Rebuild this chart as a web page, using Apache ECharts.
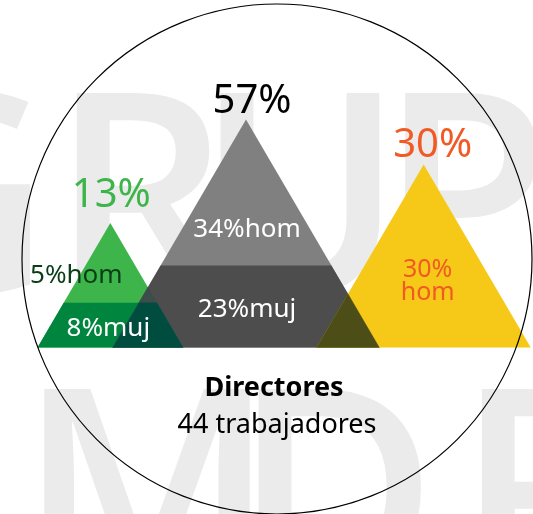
<!DOCTYPE html>
<html><head><meta charset="utf-8">
<script src="https://cdn.jsdelivr.net/npm/echarts@6/dist/echarts.min.js"></script>
<style>html,body{margin:0;padding:0;background:#fff}#c{width:533px;height:514px}</style>
</head><body><div id="c"></div>
<script>
// ---- data ----
const categories = ['Grupo 1', 'Grupo 2', 'Grupo 3'];
const totalPct = [13, 57, 30];
const homPct = [5, 34, 30];
const mujPct = [8, 23, 0];
const chartTitle = 'Directores';
const chartSubtitle = '44 trabajadores';
const watermarkTop = ['G', 'R', 'U', 'P'];
const watermarkBottom = ['M', 'D', 'R'];

// ---- style / layout ----
const FONT = 'Noto Sans';
const topColors = ['#3DB54A', '#808080', '#F6C918'];
const bottomColors = ['#00853F', '#4D4D4D', '#F6C918'];
const totalColors = ['#3DB54A', '#000000', '#F15A24'];
const homColors = ['#0B3D17', '#FFFFFF', '#F15A24'];
const mujColor = '#FFFFFF';
const peakShift = [0, -0.134, 0];      // in band widths
const halfSlope = 0.585;               // half base width / height
const splitFrac = 0.36;                // height fraction of lower band
const totalDx = [1, 6, 9], totalDy = [-27, -18, -18.5];
const homDx = [-34, 1, 4], homDy = [-1, 13, -5], homWrap = [false, false, true];
const mujDx = [-2, 1, 0], mujDy = [3, 3.5, 0];
const Y_MIN = 2.2, Y_MAX = 57;

// ---- helpers ----
function hexToRgb(h) { h = h.replace('#', ''); return [0, 2, 4].map(k => parseInt(h.substr(k, 2), 16)); }
function darken(c1, c2) {
  const a = hexToRgb(c1), b = hexToRgb(c2);
  return 'rgb(' + a.map((v, k) => Math.min(v, b[k])).join(',') + ')';
}
function signedArea(p) {
  let s = 0;
  for (let k = 0; k < p.length; k++) { const a = p[k], b = p[(k + 1) % p.length]; s += a[0] * b[1] - b[0] * a[1]; }
  return s;
}
function lineX(p1, p2, a, b) {
  const dx1 = p2[0] - p1[0], dy1 = p2[1] - p1[1], dx2 = b[0] - a[0], dy2 = b[1] - a[1];
  const den = dx1 * dy2 - dy1 * dx2;
  const t = ((a[0] - p1[0]) * dy2 - (a[1] - p1[1]) * dx2) / den;
  return [p1[0] + t * dx1, p1[1] + t * dy1];
}
function clipPoly(subject, clipper) {
  const sgn = signedArea(clipper);
  let out = subject;
  for (let k = 0; k < clipper.length && out.length; k++) {
    const a = clipper[k], b = clipper[(k + 1) % clipper.length];
    const inside = p => ((b[0] - a[0]) * (p[1] - a[1]) - (b[1] - a[1]) * (p[0] - a[0])) * sgn >= 0;
    const inp = out; out = [];
    for (let m = 0; m < inp.length; m++) {
      const cur = inp[m], prev = inp[(m + inp.length - 1) % inp.length];
      const ci = inside(cur), pi = inside(prev);
      if (ci) { if (!pi) out.push(lineX(prev, cur, a, b)); out.push(cur); }
      else if (pi) out.push(lineX(prev, cur, a, b));
    }
  }
  return out;
}

const chart = echarts.init(document.getElementById('c'));
const seriesData = categories.map((c, i) => [i, totalPct[i], homPct[i], mujPct[i]]);

// geometry of one peak, computed through the axes
function peakGeom(api, j) {
  const bw = api.size([1, 1])[0];
  const apex = api.coord([j, totalPct[j]]);
  const baseY = api.coord([j, Y_MIN])[1];
  const cx = apex[0] + peakShift[j] * bw;
  const topY = apex[1];
  const h = baseY - topY;
  const half = h * halfSlope;
  const g = { cx, topY, baseY, h, half, ys: baseY, pieces: [] };
  g.tri = [[cx - half, baseY], [cx + half, baseY], [cx, topY]];
  if (mujPct[j] > 0) {
    const ys = baseY - h * splitFrac, hs = half * (1 - splitFrac);
    g.ys = ys;
    g.trap = [[cx - half, baseY], [cx + half, baseY], [cx + hs, ys], [cx - hs, ys]];
    g.pieces.push({ poly: [[cx - hs, ys], [cx + hs, ys], [cx, topY]], color: topColors[j] });
    g.pieces.push({ poly: g.trap, color: bottomColors[j] });
  } else {
    g.pieces.push({ poly: g.tri, color: topColors[j] });
  }
  return g;
}

const wmTopX = [-50, 140, 300, 465];
const wmBotX = [147, 335, 545];
const graphics = [];
watermarkTop.forEach((ch, k) => graphics.push({
  type: 'text', z: 0, silent: true, x: wmTopX[k], y: 213,
  style: { text: ch, font: '600 280px "Open Sans"', fill: '#EBEBEB', textAlign: 'center', textVerticalAlign: 'middle' }
}));
watermarkBottom.forEach((ch, k) => graphics.push({
  type: 'text', z: 0, silent: true, x: wmBotX[k], y: 509,
  style: { text: ch, font: '600 280px "Open Sans"', fill: '#EBEBEB', textAlign: 'center', textVerticalAlign: 'middle' }
}));
graphics.push({
  type: 'circle', z: 50, silent: true,
  shape: { cx: 277, cy: 259, r: 255 },
  style: { fill: 'none', stroke: '#000', lineWidth: 1.2 }
});
graphics.push({
  type: 'text', z: 50, x: 274, y: 388,
  style: { text: chartTitle, font: 'bold 27px "' + FONT + '"', fill: '#000', textAlign: 'center', textVerticalAlign: 'middle' }
});
graphics.push({
  type: 'text', z: 50, x: 277, y: 425,
  style: { text: chartSubtitle, font: '27px "' + FONT + '"', fill: '#000', textAlign: 'center', textVerticalAlign: 'middle' }
});

chart.setOption({
  backgroundColor: '#ffffff',
  animation: false,
  graphic: graphics,
  grid: { left: 32, right: 31, top: 119.5, bottom: 166.5 },
  xAxis: { type: 'category', data: categories, show: false },
  yAxis: { type: 'log', logBase: 10, min: Y_MIN, max: Y_MAX, show: false },
  series: [{
    type: 'custom',
    z: 5,
    silent: true,
    encode: { x: 0, y: 1 },
    data: seriesData,
    renderItem: function (params, api) {
      const i = params.dataIndex;
      const total = api.value(1), hom = api.value(2), muj = api.value(3);
      const g = peakGeom(api, i);
      const children = [];
      children.push({ type: 'polygon', shape: { points: g.tri }, style: { fill: topColors[i] } });
      if (g.trap) children.push({ type: 'polygon', shape: { points: g.trap }, style: { fill: bottomColors[i] } });
      // overlaps with earlier peaks: darkened colour
      for (let j = 0; j < i; j++) {
        const gj = peakGeom(api, j);
        g.pieces.forEach(pi => gj.pieces.forEach(pj => {
          const inter = clipPoly(pi.poly, pj.poly);
          if (inter.length >= 3) {
            const col = darken(pi.color, pj.color);
            children.push({ type: 'polygon', shape: { points: inter }, style: { fill: col, stroke: col, lineWidth: 0.3 } });
          }
        }));
      }
      // total label
      children.push({
        type: 'text', z2: 10,
        x: g.cx + totalDx[i], y: g.topY + totalDy[i],
        style: { text: total + '%', font: '40px "' + FONT + '"', fill: totalColors[i], textAlign: 'center', textVerticalAlign: 'middle' }
      });
      // hom label (centroid of upper part)
      const homY = g.ys - (g.ys - g.topY) / 3 + homDy[i];
      children.push({
        type: 'text', z2: 10,
        x: g.cx + homDx[i], y: homY,
        style: {
          text: homWrap[i] ? hom + '%\nhom' : hom + '%hom',
          font: (homWrap[i] ? 25 : 26) + 'px "' + FONT + '"',
          lineHeight: homWrap[i] ? 23 : 30,
          fill: homColors[i], textAlign: 'center', textVerticalAlign: 'middle'
        }
      });
      if (muj > 0) {
        children.push({
          type: 'text', z2: 10,
          x: g.cx + mujDx[i], y: (g.baseY + g.ys) / 2 + mujDy[i],
          style: { text: muj + '%muj', font: '26px "' + FONT + '"', fill: mujColor, textAlign: 'center', textVerticalAlign: 'middle' }
        });
      }
      return { type: 'group', children: children };
    }
  }]
});
</script>
</body></html>
